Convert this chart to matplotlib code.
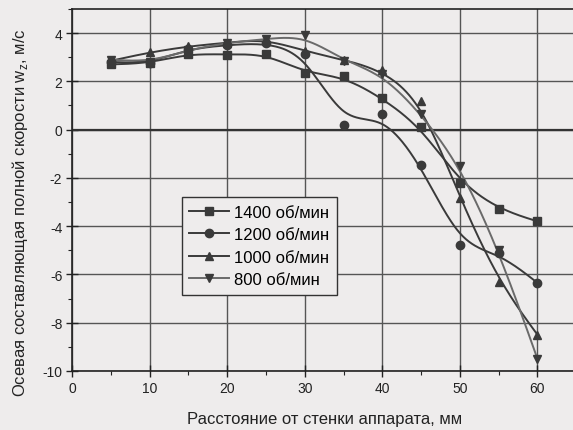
import numpy as np
import matplotlib
matplotlib.use('Agg')
import matplotlib.pyplot as plt
from matplotlib.ticker import MultipleLocator

plt.rcParams['font.family'] = ['Liberation Sans', 'DejaVu Sans']
plt.rcParams['axes.unicode_minus'] = False

# расстояние от стенки, мм
x = [5, 10, 15, 20, 25, 30, 35, 40, 45, 50, 55, 60]
# осевая скорость, м/с
w1400 = [2.7, 2.75, 3.15, 3.1, 3.15, 2.35, 2.2, 1.3, 0.1, -2.2, -3.3, -3.8]
w1200 = [2.8, 2.75, 3.35, 3.5, 3.6, 3.15, 0.2, 0.65, -1.45, -4.8, -5.1, -6.35]
w1000 = [2.85, 3.2, 3.45, 3.6, 3.75, 3.25, 2.9, 2.45, 1.2, -2.85, -6.3, -8.5]
w800 = [2.9, 2.8, 3.3, 3.6, 3.75, 3.9, 2.85, 2.3, 0.65, -1.5, -5.0, -9.5]
labels = ['1400 об/мин', '1200 об/мин', '1000 об/мин', '800 об/мин']


def bspline(px, py, n=40):
    # кубический B-сплайн, концы закреплены (как в Origin)
    px = np.r_[[px[0]] * 2, px, [px[-1]] * 2]
    py = np.r_[[py[0]] * 2, py, [py[-1]] * 2]
    t = np.linspace(0, 1, n)
    b0 = (1 - t) ** 3 / 6
    b1 = (3 * t ** 3 - 6 * t ** 2 + 4) / 6
    b2 = (-3 * t ** 3 + 3 * t ** 2 + 3 * t + 1) / 6
    b3 = t ** 3 / 6
    xs, ys = [], []
    for i in range(len(px) - 3):
        xs.append(b0 * px[i] + b1 * px[i + 1] + b2 * px[i + 2] + b3 * px[i + 3])
        ys.append(b0 * py[i] + b1 * py[i + 1] + b2 * py[i + 2] + b3 * py[i + 3])
    return np.concatenate(xs), np.concatenate(ys)


fig = plt.figure(figsize=(5.73, 4.31), dpi=100)
fig.patch.set_facecolor('#eeecec')
ax = fig.add_axes([0.1257, 0.137, 0.88, 0.84])
ax.set_facecolor('#eeecec')

series = [w1400, w1200, w1000, w800]
markers = ['s', 'o', '^', 'v']
colors = ['#3a3a3a', '#3a3a3a', '#3a3a3a', '#6a6a6a']
for ys, m, c, lab in zip(series, markers, colors, labels):
    sx, sy = bspline(np.array(x, float), np.array(ys, float))
    ax.plot(sx, sy, color=c, lw=1.4, zorder=3)
    ax.plot(x, ys, linestyle='none', marker=m, color='#3a3a3a', ms=6, zorder=4)
    ax.plot([], [], color=c, lw=1.4, marker=m, ms=6, mfc='#3a3a3a', mec='#3a3a3a', label=lab)

ax.set_xlim(0, 65)
ax.set_ylim(-10, 5)
ax.xaxis.set_major_locator(MultipleLocator(10))
ax.xaxis.set_minor_locator(MultipleLocator(5))
ax.yaxis.set_major_locator(MultipleLocator(2))
ax.yaxis.set_minor_locator(MultipleLocator(1))
ax.grid(True, which='major', color='#555555', lw=1.0)
ax.axhline(0, color='#333333', lw=1.6, zorder=2)
ax.tick_params(which='major', direction='inout', length=8, width=1, labelsize=10,
               colors='#222222', pad=3)
ax.tick_params(which='minor', direction='out', length=3, width=0.8, colors='#222222')
for s in ax.spines.values():
    s.set_color('#222222')
    s.set_linewidth(1.2)

ax.set_xlabel('Расстояние от стенки аппарата, мм', fontsize=12, color='#222222', labelpad=12)
ax.set_ylabel(r'Осевая составляющая полной скорости w$_\mathregular{z}$, м/с',
              fontsize=12, color='#222222')
ax.yaxis.set_label_coords(-0.083, 0.44)

leg = ax.legend(loc='upper left', bbox_to_anchor=(0.218, 0.48), fontsize=12,
                frameon=True, fancybox=False, edgecolor='#333333', facecolor='#eeecec',
                framealpha=1, handlelength=2.4, borderpad=0.45, labelspacing=0.45,
                handletextpad=0.3, borderaxespad=0)
leg.get_frame().set_linewidth(1.0)

fig.savefig('out.png', dpi=100, facecolor=fig.get_facecolor())
